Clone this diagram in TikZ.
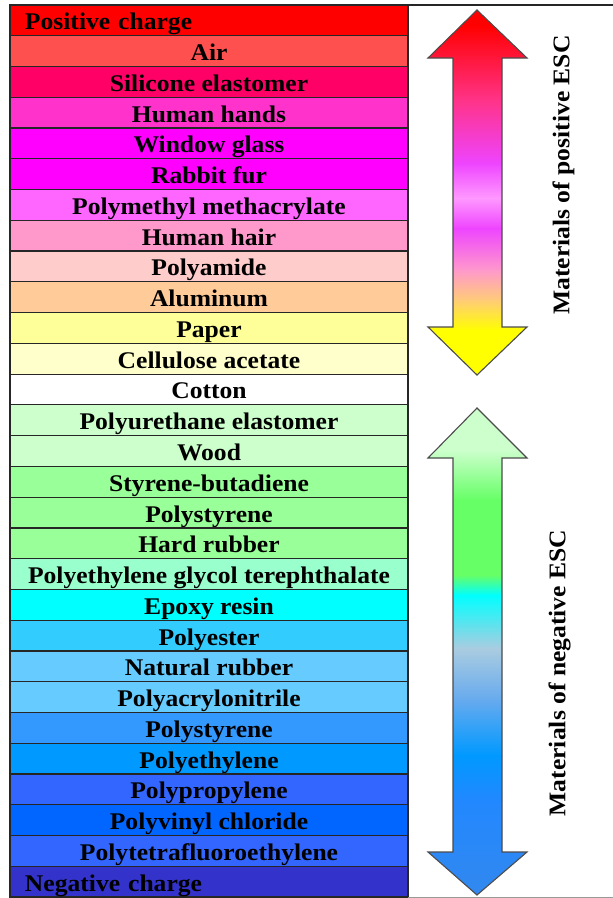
\documentclass[tikz,border=0pt]{standalone}
\usepackage{fontspec}
\setmainfont{Liberation Serif}[FakeStretch=1.07]
\begin{document}
\begin{tikzpicture}[x=1bp,y=-1bp,
  row/.style={draw=black!85,line width=1.2bp,minimum width=398bp,minimum height=30.76bp,
    inner sep=0pt,text height=19pt,text depth=0pt,font=\fontsize{24}{26}\selectfont\bfseries},
  lft/.style={text width=368bp,align=left},
  ctr/.style={},
  arrowline/.style={draw=black!70,line width=1.1bp,line join=miter},
  side/.style={rotate=90,inner sep=0pt,text height=17pt,text depth=0pt,font=\fontsize{24}{26}\selectfont\bfseries}]
\useasboundingbox (0,0) rectangle (613,898);
\fill[white] (0,0) rectangle (613,898);
\foreach \i/\c/\t/\s in {
 1/FF0000/Positive charge/lft,
 2/FF5050/Air/ctr,
 3/FF0066/Silicone elastomer/ctr,
 4/FF33CC/Human hands/ctr,
 5/FF00FF/Window glass/ctr,
 6/FF00FF/Rabbit fur/ctr,
 7/FF66FF/Polymethyl methacrylate/ctr,
 8/FF99CC/Human hair/ctr,
 9/FFCCCC/Polyamide/ctr,
 10/FFCC99/Aluminum/ctr,
 11/FFFF99/Paper/ctr,
 12/FFFFCC/Cellulose acetate/ctr,
 13/FFFFFF/Cotton/ctr,
 14/CCFFCC/Polyurethane elastomer/ctr,
 15/CCFFCC/Wood/ctr,
 16/99FF99/Styrene-butadiene/ctr,
 17/99FF99/Polystyrene/ctr,
 18/99FF99/Hard rubber/ctr,
 19/99FFCC/Polyethylene glycol terephthalate/ctr,
 20/00FFFF/Epoxy resin/ctr,
 21/33CCFF/Polyester/ctr,
 22/66CCFF/Natural rubber/ctr,
 23/66CCFF/Polyacrylonitrile/ctr,
 24/3399FF/Polystyrene/ctr,
 25/0099FF/Polyethylene/ctr,
 26/3366FF/Polypropylene/ctr,
 27/0066FF/Polyvinyl chloride/ctr,
 28/3366FF/Polytetrafluoroethylene/ctr,
 29/3333CC/Negative charge/lft}{
  \definecolor{rowc}{HTML}{\c}
  \node[row,fill=rowc,\s] (r\i) at (209,{5+(\i-0.5)*30.76}) {\t};
}
% frame of right column
\draw[black!85,line width=1.2bp] (408,5) -- (613,5);
\draw[black!40,line width=1bp] (408,897) -- (613,897);
% positive arrow
\definecolor{p1}{HTML}{FF0000}
\definecolor{p2}{HTML}{FF3388}
\definecolor{p3}{HTML}{EE44FF}
\definecolor{p4}{HTML}{FF99FF}
\definecolor{p5}{HTML}{FF99CC}
\definecolor{p6}{HTML}{FFCC77}
\definecolor{p7}{HTML}{FFFF00}
\def\posarrow{(477,10) -- (527,58) -- (502,58) -- (502,327) -- (527,327) -- (477,375) -- (428,327) -- (453,327) -- (453,58) -- (428,58) -- cycle}
\begin{scope}
  \clip \posarrow;
  \fill[p1] (420,5) rectangle (535,25.5);
  \shade[top color=p1,bottom color=p2] (420,25) rectangle (535,100.5);
  \shade[top color=p2,bottom color=p3] (420,100) rectangle (535,163.5);
  \shade[top color=p3,bottom color=p4] (420,163) rectangle (535,198.5);
  \shade[top color=p4,bottom color=p3] (420,198) rectangle (535,228.5);
  \shade[top color=p3,bottom color=p5] (420,228) rectangle (535,270.5);
  \shade[top color=p5,bottom color=p6] (420,270) rectangle (535,300.5);
  \shade[top color=p6,bottom color=p7] (420,300) rectangle (535,330.5);
  \fill[p7] (420,330) rectangle (535,380);
\end{scope}
\draw[arrowline] \posarrow;
% negative arrow
\definecolor{n1}{HTML}{CCFFCC}
\definecolor{n2}{HTML}{66FF66}
\definecolor{n3}{HTML}{00FFFF}
\definecolor{n4}{HTML}{AACCE0}
\definecolor{n5}{HTML}{66AAEE}
\definecolor{n6}{HTML}{0099FF}
\definecolor{n7}{HTML}{2288FF}
\definecolor{n8}{HTML}{3388EE}
\def\negarrow{(477,408) -- (527,458) -- (502,458) -- (502,852) -- (527,852) -- (477,895) -- (428,852) -- (453,852) -- (453,458) -- (428,458) -- cycle}
\begin{scope}
  \clip \negarrow;
  \fill[n1] (420,400) rectangle (535,450.5);
  \shade[top color=n1,bottom color=n2] (420,450) rectangle (535,500.5);
  \fill[n2] (420,500) rectangle (535,575.5);
  \shade[top color=n2,bottom color=n3] (420,575) rectangle (535,595.5);
  \shade[top color=n3,bottom color=n4] (420,595) rectangle (535,648.5);
  \shade[top color=n4,bottom color=n5] (420,648) rectangle (535,700.5);
  \shade[top color=n5,bottom color=n6] (420,700) rectangle (535,755.5);
  \shade[top color=n6,bottom color=n7] (420,755) rectangle (535,800.5);
  \shade[top color=n7,bottom color=n8] (420,800) rectangle (535,900);
\end{scope}
\draw[arrowline] \negarrow;
\node[side] (pos) at (561,175) {Materials of positive ESC};
\node[side] (neg) at (557,673) {Materials of negative ESC};
\end{tikzpicture}
\end{document}
